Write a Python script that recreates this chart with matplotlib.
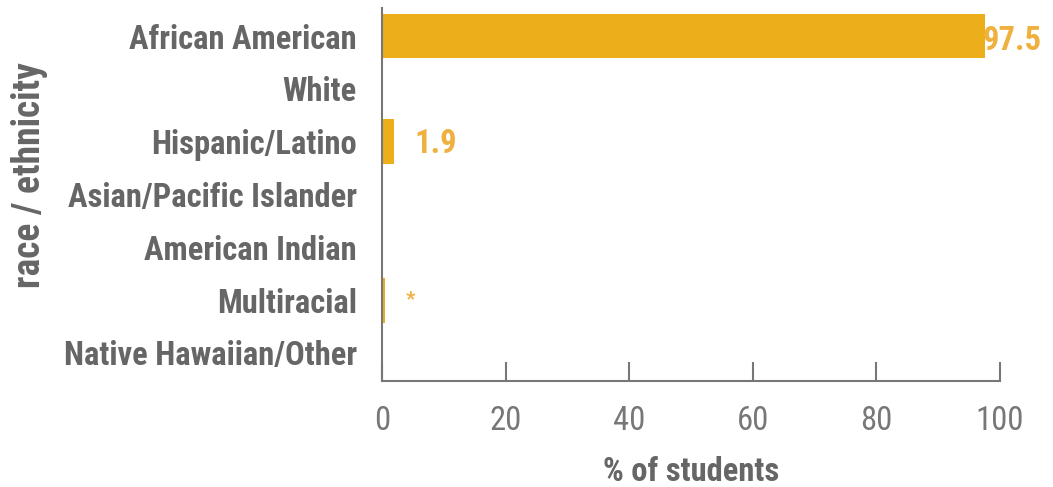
import matplotlib
matplotlib.use("Agg")
import matplotlib.pyplot as plt
from matplotlib import font_manager

categories = ["African American", "White", "Hispanic/Latino", "Asian/Pacific Islander",
              "American Indian", "Multiracial", "Native Hawaiian/Other"]
values = [97.5, 0.0, 1.9, 0.0, 0.0, 0.5, 0.0]
labels = ["97.5", "", "1.9", "", "", "*", ""]
xticks = [0, 20, 40, 60, 80, 100]

names = {f.name for f in font_manager.fontManager.ttflist}
fam = next((n for n in ["Roboto Condensed", "Archivo Narrow", "Liberation Sans"] if n in names), "DejaVu Sans")

bar_color = "#EDAE1C"
text_gray = "#666666"
FS = 23.5

fig = plt.figure(figsize=(10.53, 4.87), dpi=100)
ax = fig.add_axes([382/1053, 1-381/487, (1000-382)/1053, (381-8)/487])

ypos = list(range(len(categories)))
ax.barh(ypos, values, height=0.85, color=bar_color)
ax.set_ylim(6.53, -0.53)
ax.set_xlim(0, 100)

for y, v, lab in zip(ypos, values, labels):
    if not lab:
        continue
    if lab == "*":
        ax.text(v + 3.3, y, lab, color="#F0B040", fontsize=15, fontweight="bold",
                family=fam, va="center", ha="left")
    elif v > 90:
        ax.text(v - 0.3, y + 0.1, lab, color="#F0B040", fontsize=FS, fontweight="bold",
                family=fam, va="center", ha="left")
    else:
        ax.text(v + 3.3, y + 0.05, lab, color="#F0B040", fontsize=FS, fontweight="bold",
                family=fam, va="center", ha="left")

ax.set_yticks(ypos)
ax.set_yticklabels(categories, fontsize=FS, fontweight="bold", color=text_gray, family=fam)
ax.tick_params(axis="y", length=0, pad=18)
ax.set_xticks(xticks)
ax.set_xticklabels([str(t) for t in xticks], fontsize=FS, color="#777777", family=fam)
ax.tick_params(axis="x", direction="in", length=14, width=1.5, color="#777777", pad=17)

for s in ["top", "right"]:
    ax.spines[s].set_visible(False)
for s in ["left", "bottom"]:
    ax.spines[s].set_color("#777777")
    ax.spines[s].set_linewidth(1.5)

ax.set_xlabel("% of students", fontsize=FS, fontweight="bold", color=text_gray, family=fam, labelpad=14)
fig.text(30/1053, 1-175/487, "race / ethnicity", rotation=90, fontsize=27, fontweight="bold",
         color=text_gray, family=fam, ha="center", va="center")

fig.savefig("out.png", dpi=100)
